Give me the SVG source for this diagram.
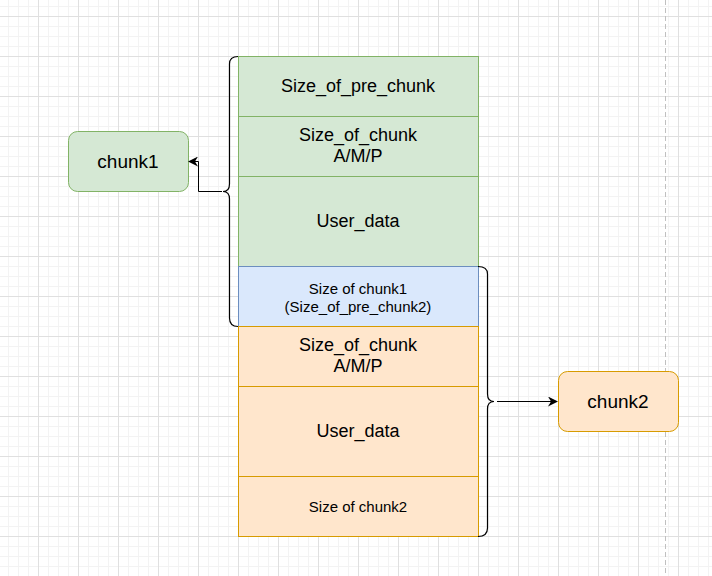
<svg xmlns="http://www.w3.org/2000/svg" width="712" height="576" viewBox="0 0 712 576">
<defs>
<pattern id="grid" x="38" y="16" width="40" height="40" patternUnits="userSpaceOnUse">
<path d="M10.5,0V40M20.5,0V40M30.5,0V40M0,10.5H40M0,20.5H40M0,30.5H40" stroke="#f3f3f3" stroke-width="1" fill="none"/>
<path d="M0.5,0V40M0,0.5H40" stroke="#e0e0e0" stroke-width="1" fill="none"/>
</pattern>
<marker id="arr" viewBox="0 0 10 10" refX="9" refY="5" markerWidth="10" markerHeight="10" markerUnits="userSpaceOnUse" orient="auto">
<path d="M0,0 L10,5 L0,10 L3,5 Z" fill="#000"/>
</marker>
<style>
.t{font-family:"Liberation Sans",Arial,sans-serif;fill:#000;text-anchor:middle}
.g{fill:#d5e8d4;stroke:#82b366;stroke-width:1}
.b{fill:#dae8fc;stroke:#6c8ebf;stroke-width:1}
.o{fill:#ffe6cc;stroke:#d79b00;stroke-width:1}
.br{fill:none;stroke:#000;stroke-width:1.2}
.c{fill:none;stroke:#000;stroke-width:1}
</style>
</defs>
<rect width="712" height="576" fill="#fff"/>
<rect width="712" height="576" fill="url(#grid)"/>
<line x1="665.5" y1="0" x2="665.5" y2="576" stroke="#c0c0c0" stroke-dasharray="5,3"/>

<g id="g-pre"><rect class="g" x="238.5" y="56.5" width="240" height="60"/><text class="t" x="358" y="92" font-size="18">Size_of_pre_chunk</text></g>
<g id="g-size"><rect class="g" x="238.5" y="116.5" width="240" height="60"/><text class="t" x="358" y="141" font-size="18">Size_of_chunk</text><text class="t" x="358" y="162" font-size="18">A/M/P</text></g>
<g id="g-user"><rect class="g" x="238.5" y="176.5" width="240" height="90"/><text class="t" x="358" y="227" font-size="18">User_data</text></g>
<g id="b-size"><rect class="b" x="238.5" y="266.5" width="240" height="60"/><text class="t" x="358" y="294" font-size="15">Size of chunk1</text><text class="t" x="358" y="312" font-size="15">(Size_of_pre_chunk2)</text></g>
<g id="o-size"><rect class="o" x="238.5" y="326.5" width="240" height="60"/><text class="t" x="358" y="351" font-size="18">Size_of_chunk</text><text class="t" x="358" y="372" font-size="18">A/M/P</text></g>
<g id="o-user"><rect class="o" x="238.5" y="386.5" width="240" height="90"/><text class="t" x="358" y="437" font-size="18">User_data</text></g>
<g id="o-size2"><rect class="o" x="238.5" y="476.5" width="240" height="60"/><text class="t" x="358" y="512" font-size="15">Size of chunk2</text></g>

<g id="chunk1"><rect class="g" x="68.5" y="131.5" width="120" height="60" rx="9"/><text class="t" x="128" y="168" font-size="19">chunk1</text></g>
<g id="chunk2"><rect class="o" x="558.5" y="371.5" width="120" height="60" rx="9"/><text class="t" x="618" y="408" font-size="19">chunk2</text></g>

<g id="connectors">
<path class="br" d="M238,56.5 Q229.5,56.5 229.5,64 L229.5,184 Q229.5,191.5 223,191.5 Q229.5,191.5 229.5,199 L229.5,318 Q229.5,326.5 238,326.5"/>
<path class="br" d="M478,266.5 Q487.5,266.5 487.5,274 L487.5,394 Q487.5,401.5 494,401.5 Q487.5,401.5 487.5,409 L487.5,528 Q487.5,536.5 478,536.5"/>
<path class="c" d="M222,191.5 H198.5 V161.5 H189" marker-end="url(#arr)"/>
<path class="c" d="M497,401.5 H557" marker-end="url(#arr)"/>
</g>
</svg>
